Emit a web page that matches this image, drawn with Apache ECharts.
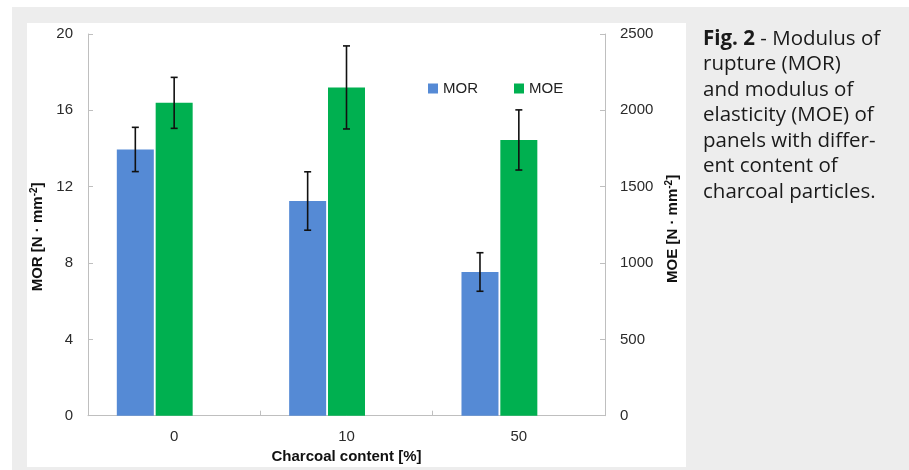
<!DOCTYPE html>
<html>
<head>
<meta charset="utf-8">
<script src="https://cdn.jsdelivr.net/npm/echarts@6/dist/echarts.min.js"></script>
<style>
html,body{margin:0;padding:0;background:#ffffff;}
#chart{width:909px;height:470px;}
</style>
</head>
<body>
<div id="chart"></div>
<script>
const categories = ['0', '10', '50'];
const morValues = [13.95, 11.25, 7.53];
const morErrors = [1.16, 1.53, 1.01];
const moeValues = [2049, 2150, 1806];
const moeErrors = [167, 272, 197];
const morTicks = [0, 4, 8, 12, 16, 20];
const moeTicks = [0, 500, 1000, 1500, 2000, 2500];

const BAR_W = 37;
const GAP_RATIO = 0.05;
const BLUE = '#558ad5';
const GREEN = '#00b050';
const AXIS_COLOR = '#bfbfbf';
const LABEL_COLOR = '#2b2b2b';

const chart = echarts.init(document.getElementById('chart'), null, {renderer: 'canvas'});

function errData(vals, errs) {
  return vals.map((v, i) => [i, v - errs[i], v + errs[i]]);
}
function errRender(offsetBars) {
  return function (params, api) {
    const i = api.value(0);
    const lo = api.coord([i, api.value(1)]);
    const hi = api.coord([i, api.value(2)]);
    const x = lo[0] + offsetBars * BAR_W * (1 + GAP_RATIO);
    const cap = 3.5;
    const style = {stroke: '#111111', lineWidth: 1.6};
    return {
      type: 'group',
      children: [
        {type: 'line', shape: {x1: x, y1: hi[1], x2: x, y2: lo[1]}, style},
        {type: 'line', shape: {x1: x - cap, y1: hi[1], x2: x + cap, y2: hi[1]}, style},
        {type: 'line', shape: {x1: x - cap, y1: lo[1], x2: x + cap, y2: lo[1]}, style}
      ]
    };
  };
}

const nameRich = {
  a: {fontFamily: 'Arial, Liberation Sans', fontWeight: 'bold', fontSize: 15, color: '#111'},
  s: {fontFamily: 'Arial, Liberation Sans', fontWeight: 'bold', fontSize: 10, color: '#111', verticalAlign: 'top', padding: [0, 0, 8, 0]}
};

const yAxisCommon = {
  type: 'value',
  nameLocation: 'middle',
  nameRotate: 90,
  axisLine: {show: true, lineStyle: {color: AXIS_COLOR, width: 1}},
  axisTick: {show: true, inside: true, length: 5, lineStyle: {color: AXIS_COLOR}},
  splitLine: {show: false},
  axisLabel: {color: LABEL_COLOR, fontSize: 15, fontFamily: 'Arial, Liberation Sans', margin: 15, formatter: v => String(v)}
};

const option = {
  animation: false,
  backgroundColor: 'transparent',
  graphic: [
    {type: 'rect', silent: true, z: -10, shape: {x: 12, y: 7, width: 897, height: 463}, style: {fill: '#ededed'}},
    {type: 'rect', silent: true, z: -9, shape: {x: 27, y: 23, width: 659, height: 444}, style: {fill: '#ffffff'}},
    {
      type: 'text', left: 703, top: 26, z: 10,
      style: {
        text: '{b|Fig. 2} - Modulus of\nrupture (MOR)\nand modulus of\nelasticity (MOE) of\npanels with differ-\nent content of\ncharcoal particles.',
        fontFamily: 'Open Sans', fontSize: 20.5, lineHeight: 25.5, fill: '#1a1a1a',
        rich: {b: {fontFamily: 'Open Sans', fontSize: 20.5, fontWeight: 'bold', lineHeight: 25.5, fill: '#1a1a1a'}}
      }
    }
  ],
  legend: {
    data: ['MOR', 'MOE'],
    left: 423, top: 76,
    icon: 'rect', itemWidth: 10, itemHeight: 10, itemGap: 36,
    textStyle: {fontSize: 15, fontFamily: 'Arial, Liberation Sans', color: '#222'}
  },
  grid: {left: 88, right: 304, top: 34, bottom: 54.3, containLabel: false},
  xAxis: {
    type: 'category',
    data: categories,
    name: 'Charcoal content [%]',
    nameLocation: 'middle',
    nameGap: 31,
    nameTextStyle: {fontFamily: 'Arial, Liberation Sans', fontWeight: 'bold', fontSize: 15, color: '#111', verticalAlign: 'top'},
    axisLine: {lineStyle: {color: AXIS_COLOR, width: 1}},
    axisTick: {show: true, inside: true, length: 5, lineStyle: {color: AXIS_COLOR}},
    axisLabel: {color: LABEL_COLOR, fontSize: 15, fontFamily: 'Arial, Liberation Sans', margin: 14}
  },
  yAxis: [
    Object.assign({}, yAxisCommon, {
      position: 'left', min: morTicks[0], max: morTicks[morTicks.length - 1], interval: morTicks[1] - morTicks[0],
      name: '{a|MOR [N · mm}{s|-2}{a|]}', nameGap: 39,
      nameTextStyle: {rich: nameRich, padding: [0, 24, 0, 0]}
    }),
    Object.assign({}, yAxisCommon, {
      position: 'right', min: moeTicks[0], max: moeTicks[moeTicks.length - 1], interval: moeTicks[1] - moeTicks[0],
      name: '{a|MOE [N · mm}{s|-2}{a|]}', nameGap: 53,
      nameTextStyle: {rich: nameRich, padding: [0, 8, 0, 0]}
    })
  ],
  series: [
    {name: 'MOR', type: 'bar', yAxisIndex: 0, data: morValues, barWidth: BAR_W, barGap: (GAP_RATIO * 100) + '%', itemStyle: {color: BLUE}},
    {name: 'MOE', type: 'bar', yAxisIndex: 1, data: moeValues, barWidth: BAR_W, barGap: (GAP_RATIO * 100) + '%', itemStyle: {color: GREEN}},
    {name: 'spacer', type: 'bar', yAxisIndex: 0, data: categories.map(() => null), barWidth: BAR_W, barGap: (GAP_RATIO * 100) + '%', itemStyle: {color: 'transparent'}},
    {name: 'MOR err', type: 'custom', yAxisIndex: 0, data: errData(morValues, morErrors), encode: {x: 0, y: [1, 2]}, renderItem: errRender(-1), z: 5},
    {name: 'MOE err', type: 'custom', yAxisIndex: 1, data: errData(moeValues, moeErrors), encode: {x: 0, y: [1, 2]}, renderItem: errRender(0), z: 5}
  ]
};
chart.setOption(option);
</script>
</body>
</html>
